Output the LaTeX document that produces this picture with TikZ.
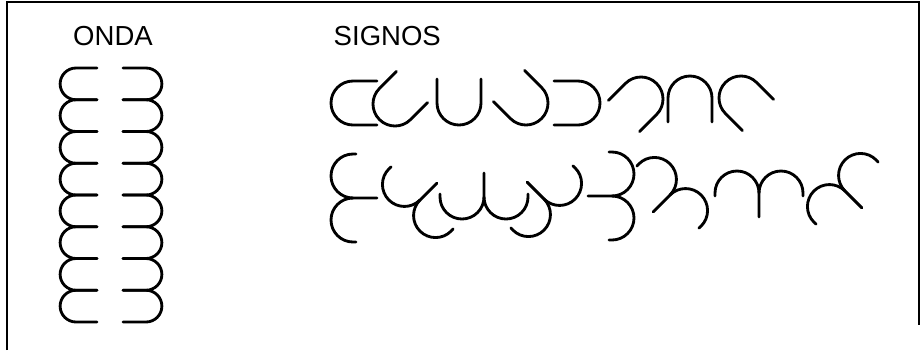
\documentclass[tikz,border=0pt]{standalone}
\usepackage{fontspec}
\setmainfont{Liberation Sans}

\begin{document}
\begin{tikzpicture}[
        x=0.3mm, y=-0.3mm,
        trazo/.style={line width=0.85mm, line cap=round, black},
        marco/.style={line width=0.6mm, black},
        titulo/.style={font=\fontsize{23.5}{28}\selectfont, inner sep=0pt},
        signo/.pic={\draw[trazo] (24,-22) -- (0,-22) arc[start angle=270, end angle=90, radius=22] -- (24,22);},
        signodoble/.pic={\draw[trazo] (3,-44) -- (0,-44) arc[start angle=270, end angle=90, radius=22] -- (24,0);
            \draw[trazo] (0,0) arc[start angle=270, end angle=90, radius=22] -- (3,44);}
    ]
        \useasboundingbox (0,0) rectangle (921,350);
        \draw[marco] (7,350) -- (7,2) -- (918.5,2) -- (918.5,325);

        \node[titulo, anchor=base] (onda) at (113,45) {ONDA};
        \node[titulo, anchor=base west] (signos) at (333.5,45) {SIGNOS};

        % onda
        \foreach \i in {0,...,7} {
            \draw[trazo] (97,{68+31.75*\i}) -- (76,{68+31.75*\i})
                arc[start angle=270, end angle=90, radius=15.875] -- (97,{99.75+31.75*\i});
            \draw[trazo] (123,{68+31.75*\i}) -- (146,{68+31.75*\i})
                arc[start angle=270, end angle=450, radius=15.875] -- (123,{99.75+31.75*\i});
        }

        % signos
        \foreach \x/\y/\a in {353/103/0, 395/104/45, 459/103/90, 526/103/135,
                              578/103/180, 641/99/225, 690/98/270, 741/98/315}
            \pic[rotate=\a] at (\x,\y) {signo};
        \foreach \x/\y/\a in {353/198/0, 420/200/45, 484/197/90, 544/199/135,
                              612/196/180, 670/195/225, 759/193/270, 845/191/315}
            \pic[rotate=\a] at (\x,\y) {signodoble};
    \end{tikzpicture}
\end{document}
